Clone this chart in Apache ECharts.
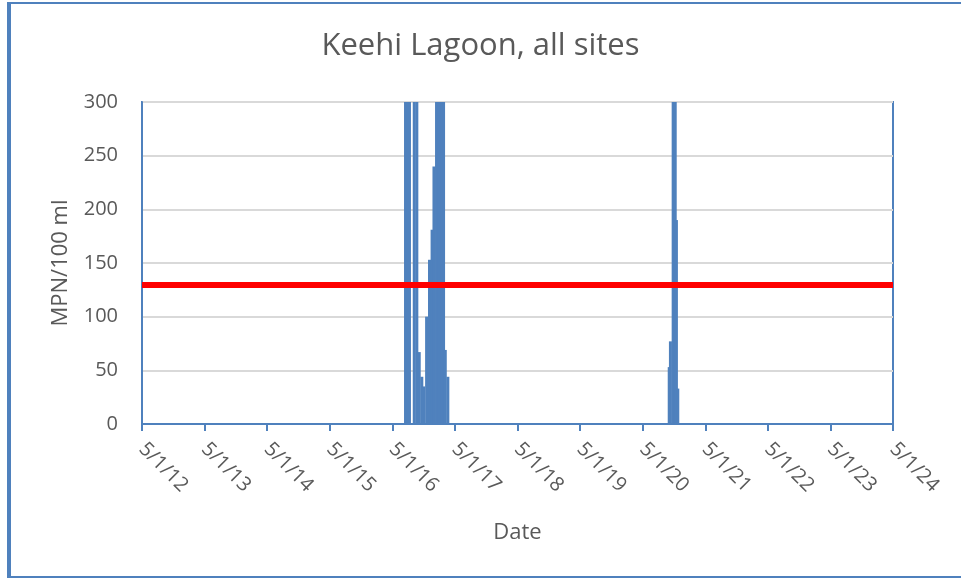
<!DOCTYPE html>
<html>
<head>
<meta charset="utf-8">
<script src="https://cdn.jsdelivr.net/npm/echarts@6/dist/echarts.min.js"></script>
<style>
  html, body { margin: 0; padding: 0; background: #fff; }
  #chart { width: 961px; height: 579px; }
</style>
</head>
<body>
<div id="chart"></div>
<script>
// Sample dates and MPN values (values above 300 run off the top of the plot)
const sampleDates = [
  '2016-07-17', '2016-07-29', '2016-08-09', '2016-09-06', '2016-09-21',
  '2016-10-05', '2016-10-20', '2016-10-30', '2016-11-17', '2016-12-04',
  '2016-12-19', '2016-12-30', '2017-01-14', '2017-01-29', '2017-02-12',
  '2017-02-24', '2017-03-06', '2017-03-21',
  '2020-10-03', '2020-10-10', '2020-10-26', '2020-11-07', '2020-11-14', '2020-11-22'
]
const mpnValues = [
  420, 650, 380, 520, 410,
  67, 44, 35, 100, 153,
  181, 240, 900, 480, 700,
  360, 69, 44,
  53, 77, 500, 2400, 190, 33
]
const xTickLabels = ['5/1/12', '5/1/13', '5/1/14', '5/1/15', '5/1/16', '5/1/17', '5/1/18',
  '5/1/19', '5/1/20', '5/1/21', '5/1/22', '5/1/23', '5/1/24']
const threshold = 130

const startDate = Date.UTC(2012, 4, 1)
const dayOffset = (s) => {
  const [y, m, d] = s.split('-').map(Number)
  return (Date.UTC(y, m - 1, d) - startDate) / 86400000
}
const YEAR = 365.25

const blue = '#4f81bd'
const textColor = '#595959'
const font = 'Open Sans'

const chart = echarts.init(document.getElementById('chart'))

chart.setOption({
  animation: false,
  title: {
    text: 'Keehi Lagoon, all sites',
    left: 'center',
    top: 26,
    textStyle: { fontFamily: font, fontSize: 31, fontWeight: 'normal', color: textColor }
  },
  graphic: [
    {
      type: 'rect',
      shape: { x: 9, y: 3, width: 1000, height: 574 },
      style: { fill: 'none', stroke: blue, lineWidth: 2 }
    },
    {
      type: 'line',
      shape: { x1: 9, y1: 2, x2: 9, y2: 578 },
      style: { stroke: blue, lineWidth: 4 }
    }
  ],
  grid: {
    left: 142,
    right: 68,
    top: 102,
    bottom: 155,
    show: true,
    borderColor: blue,
    borderWidth: 2
  },
  xAxis: {
    type: 'value',
    min: 0,
    max: 12 * YEAR,
    interval: YEAR,
    name: 'Date',
    nameLocation: 'middle',
    nameGap: 98,
    nameTextStyle: { fontFamily: font, fontSize: 22, color: textColor },
    axisLine: { lineStyle: { color: blue, width: 2 } },
    axisTick: { show: true, length: 7, lineStyle: { color: blue, width: 2 } },
    axisLabel: {
      rotate: -45,
      margin: 22,
      fontFamily: font,
      fontSize: 20,
      color: textColor,
      formatter: (v) => xTickLabels[Math.round(v / YEAR)]
    },
    splitLine: { show: false }
  },
  yAxis: {
    type: 'value',
    min: 0,
    max: 300,
    interval: 50,
    name: 'MPN/100 ml',
    nameLocation: 'middle',
    nameGap: 70,
    nameTextStyle: { fontFamily: font, fontSize: 22, color: textColor },
    axisLine: { show: true, lineStyle: { color: blue, width: 2 } },
    axisTick: { show: false },
    axisLabel: { margin: 24, fontFamily: font, fontSize: 20, color: textColor },
    splitLine: { lineStyle: { color: '#d9d9d9', width: 2 } }
  },
  series: [
    {
      type: 'bar',
      barWidth: 3,
      clip: true,
      itemStyle: { color: blue },
      data: sampleDates.map((d, i) => [dayOffset(d), mpnValues[i]]),
      markLine: {
        silent: true,
        symbol: 'none',
        label: { show: false },
        lineStyle: { color: '#ff0000', width: 6, type: 'solid' },
        data: [{ yAxis: threshold }]
      }
    }
  ]
})
</script>
</body>
</html>
